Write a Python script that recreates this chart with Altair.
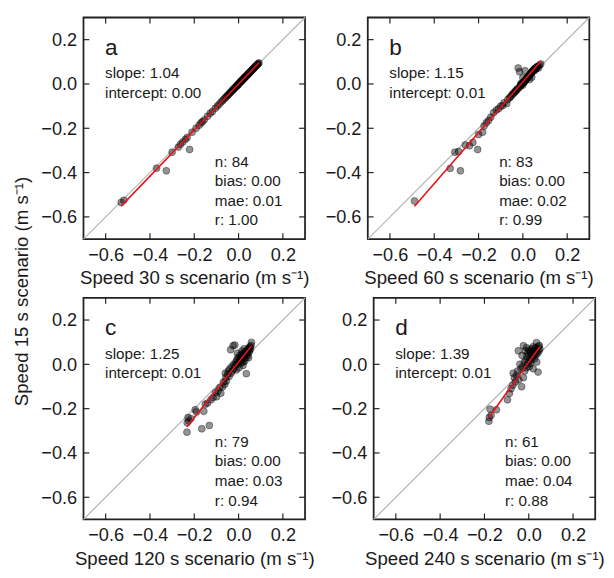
import altair as alt
import pandas as pd

FONT = "Liberation Sans"

letters = ["a", "b", "c", "d"]
x_titles = [
    "Speed 30 s scenario (m s\u207b\u00b9)",
    "Speed 60 s scenario (m s\u207b\u00b9)",
    "Speed 120 s scenario (m s\u207b\u00b9)",
    "Speed 240 s scenario (m s\u207b\u00b9)",
]
y_title = "Speed 15 s scenario (m s\u207b\u00b9)"
slopes = [1.04, 1.15, 1.25, 1.39]
intercepts = [0.00, 0.01, 0.01, 0.01]
ns = [84, 83, 79, 61]
biases = [0.00, 0.00, 0.00, 0.00]
maes = [0.01, 0.02, 0.03, 0.04]
rs = [1.00, 0.99, 0.94, 0.88]
tick_values = [-0.6, -0.4, -0.2, 0.0, 0.2]
axis_domain = [-0.7, 0.3]

# panel a : 30 s vs 15 s
xa = [-0.530, -0.518, -0.370, -0.326, -0.300, -0.272, -0.262, -0.252, -0.240, -0.232,
      -0.221, -0.210, -0.192, -0.178, -0.170, -0.163, -0.155, -0.140, -0.128, -0.118,
      -0.105, -0.096, -0.088, -0.080, -0.072, -0.066, -0.060, -0.055, -0.050, -0.046,
      -0.042, -0.038, -0.034, -0.030, -0.027, -0.024, -0.020, -0.017, -0.014, -0.011,
      -0.008, -0.005, -0.002, 0.001, 0.004, 0.006, 0.009, 0.011, 0.014, 0.016,
      0.019, 0.021, 0.024, 0.026, 0.029, 0.031, 0.034, 0.036, 0.039, 0.041,
      0.044, 0.046, 0.049, 0.051, 0.054, 0.056, 0.059, 0.061, 0.064, 0.066,
      0.069, 0.071, 0.074, 0.076, 0.079, 0.081, 0.084, 0.086, 0.089, 0.092,
      -0.004, 0.012, 0.028, 0.045]
ya = [-0.535, -0.525, -0.380, -0.392, -0.308, -0.285, -0.272, -0.262, -0.250, -0.242,
      -0.296, -0.218, -0.200, -0.186, -0.176, -0.170, -0.162, -0.146, -0.132, -0.124,
      -0.110, -0.100, -0.092, -0.082, -0.076, -0.068, -0.063, -0.056, -0.053, -0.048,
      -0.044, -0.039, -0.036, -0.031, -0.029, -0.024, -0.022, -0.017, -0.015, -0.011,
      -0.009, -0.005, -0.003, 0.002, 0.004, 0.007, 0.009, 0.012, 0.014, 0.017,
      0.019, 0.022, 0.025, 0.027, 0.030, 0.032, 0.035, 0.037, 0.041, 0.042,
      0.046, 0.047, 0.051, 0.053, 0.056, 0.058, 0.061, 0.063, 0.067, 0.068,
      0.072, 0.073, 0.077, 0.079, 0.082, 0.084, 0.087, 0.089, 0.092, 0.095,
      -0.006, 0.013, 0.030, 0.046]

# panel b : 60 s vs 15 s
xb = [-0.489, -0.328, -0.307, -0.282, -0.290, -0.260, -0.241, -0.226, -0.204, -0.200,
      -0.182, -0.175, -0.165, -0.155, -0.145, -0.132, -0.120, -0.110, -0.100, -0.092,
      -0.085, -0.073, -0.068, -0.060,
      -0.055, -0.050, -0.045, -0.040, -0.036, -0.032, -0.028, -0.025, -0.021, -0.018,
      -0.015, -0.012, -0.010, -0.008, -0.005, -0.003,
      0.000, 0.002, 0.004, 0.006, 0.008, 0.010, 0.012, 0.014, 0.016, 0.018,
      0.020, 0.022, 0.024, 0.026, 0.028, 0.030, 0.032, 0.034, 0.036, 0.038,
      0.040, 0.042, 0.044, 0.046, 0.048, 0.050, 0.052, 0.054, 0.056, 0.058,
      0.060, 0.062, 0.065, 0.068, 0.071, 0.075, 0.081,
      0.000, 0.010, 0.040, 0.055, -0.010, 0.030]
yb = [-0.528, -0.381, -0.308, -0.392, -0.305, -0.275, -0.279, -0.264, -0.296, -0.228,
      -0.218, -0.190, -0.175, -0.165, -0.150, -0.130, -0.118, -0.112, -0.100, -0.098,
      -0.085, -0.089, -0.070, -0.062,
      -0.058, -0.050, -0.045, -0.040, -0.036, -0.030, -0.028, -0.022, 0.072, -0.018,
      0.055, -0.010, -0.008, -0.004, 0.000, 0.005,
      0.028, 0.005, 0.008, 0.010, 0.012, 0.015, 0.018, 0.020, 0.022, 0.025,
      0.028, 0.030, 0.032, 0.035, 0.038, 0.040, 0.042, 0.045, 0.048, 0.050,
      0.052, 0.055, 0.058, 0.060, 0.062, 0.065, 0.060, 0.068, 0.070, 0.072,
      0.068, 0.075, 0.078, 0.080, 0.072, 0.085, 0.090,
      -0.005, 0.060, 0.030, 0.070, 0.000, 0.020]

# panel c : 120 s vs 15 s
xc = [-0.233, -0.232, -0.228, -0.225, -0.215, -0.196, -0.190, -0.166, -0.157, -0.150,
      -0.140, -0.132, -0.125, -0.115, -0.105, -0.099, -0.092, -0.085, -0.080, -0.072,
      -0.068, -0.062, -0.058, -0.055,
      -0.050, -0.046, -0.043, -0.040, -0.036, -0.034, -0.030, -0.028, -0.025, -0.022,
      -0.020, -0.017, -0.015, -0.012, -0.010, -0.008, -0.005, -0.003, 0.000, 0.002,
      0.004, 0.006, 0.008, 0.010, 0.012, 0.014, 0.016, 0.018, 0.020, 0.022,
      0.024, 0.026, 0.028, 0.030, 0.032, 0.034, 0.035, 0.036, 0.038, 0.040,
      0.042, 0.044, 0.046, 0.048, 0.050, 0.052, 0.054, 0.056, 0.058, -0.060,
      0.015, 0.025, -0.005, 0.045, 0.020]
yc = [-0.306, -0.264, -0.240, -0.255, -0.245, -0.205, -0.215, -0.291, -0.212, -0.180,
      -0.175, -0.276, -0.160, -0.150, -0.128, -0.146, -0.120, -0.105, -0.130, -0.101,
      -0.080, -0.090, -0.060, -0.075,
      -0.045, -0.030, -0.055, -0.020, 0.066, -0.040, -0.010, -0.030, 0.084, 0.000,
      -0.020, 0.087, -0.005, 0.010, -0.025, 0.020, 0.000, 0.030, 0.010, -0.015,
      0.025, 0.040, 0.015, 0.005, 0.030, 0.045, 0.020, 0.035, 0.010, 0.050,
      0.028, 0.040, 0.015, 0.055, 0.045, 0.030, -0.042, 0.060, 0.050, 0.065,
      0.040, 0.070, 0.055, 0.075, 0.060, 0.080, 0.070, 0.085, 0.099, -0.040,
      0.060, 0.070, 0.050, 0.030, -0.005]

# panel d : 240 s vs 15 s
xd = [-0.180, -0.178, -0.175, -0.170, -0.146, -0.096, -0.087, -0.080, -0.072, -0.070,
      -0.065, -0.060, -0.055, -0.050, -0.047, -0.045, -0.040, -0.035, -0.032, -0.030,
      -0.028, -0.024, -0.024, -0.020, -0.018, -0.015, -0.012, -0.010, -0.008, -0.005,
      -0.003, 0.000, 0.002, 0.004, 0.006, 0.008, 0.010, 0.012, 0.014, 0.016,
      0.018, 0.020, 0.022, 0.024, 0.026, 0.028, 0.030, 0.032, 0.034, 0.035,
      0.036, 0.038, 0.040, 0.042, 0.044, 0.046, 0.048, 0.050, -0.010, 0.000,
      0.020]
yd = [-0.257, -0.240, -0.202, -0.230, -0.205, -0.160, -0.131, -0.110, -0.094, -0.040,
      -0.060, -0.080, -0.050, -0.030, 0.061, -0.070, 0.000, -0.020, -0.101, 0.040,
      -0.010, 0.084, -0.060, 0.010, -0.030, 0.060, 0.020, -0.015, 0.035, 0.000,
      0.050, 0.015, -0.010, 0.030, 0.060, 0.005, 0.045, 0.020, 0.070, 0.035,
      0.055, -0.020, 0.040, 0.065, 0.025, 0.050, 0.075, 0.040, 0.060, 0.098,
      0.010, 0.070, 0.050, -0.035, 0.080, 0.060, 0.085, 0.070, 0.075, 0.065,
      0.080]

xs_all = [xa, xb, xc, xd]
ys_all = [ya, yb, yc, yd]

W, H = 226, 226
TICK = 6
TXT = "#1a1a1a"


def text_layer(s, px, py, size):
    return alt.Chart(pd.DataFrame({"t": [s]})).mark_text(
        font=FONT, fontSize=size, align="left", baseline="alphabetic", color=TXT
    ).encode(x=alt.value(px), y=alt.value(py), text="t:N")


def panel(i):
    xs, ys = xs_all[i], ys_all[i]
    sx = alt.Scale(domain=axis_domain, nice=False, zero=False)
    sy = alt.Scale(domain=axis_domain, nice=False, zero=False)
    X = alt.X("x:Q", scale=sx,
              axis=alt.Axis(values=tick_values, format=".1f", title=x_titles[i]))
    Y = alt.Y("y:Q", scale=sy,
              axis=alt.Axis(values=tick_values, format=".1f", title=None))

    diag = alt.Chart(pd.DataFrame({"x": axis_domain, "y": axis_domain})).mark_line(
        color="#b3b3b3", strokeWidth=1.2).encode(x=X, y=Y)

    pts = alt.Chart(pd.DataFrame({"x": xs, "y": ys})).mark_circle(
        size=50, color="black", fillOpacity=0.42, stroke="black",
        strokeOpacity=0.45, strokeWidth=0.8).encode(x=X, y=Y)

    x0, x1 = min(xs), max(xs)
    fit_df = pd.DataFrame({"x": [x0, x1],
                           "y": [slopes[i] * x0 + intercepts[i],
                                 slopes[i] * x1 + intercepts[i]]})
    fit = alt.Chart(fit_df).mark_line(color="#e8141c", strokeWidth=1.6).encode(x=X, y=Y)

    tdf = pd.DataFrame({"x": tick_values, "y": tick_values})
    tk = dict(color="#222222", strokeWidth=1.2)
    t_bottom = alt.Chart(tdf).mark_rule(**tk).encode(x=X, y=alt.value(H), y2=alt.value(H - TICK))
    t_top = alt.Chart(tdf).mark_rule(**tk).encode(x=X, y=alt.value(0), y2=alt.value(TICK))
    t_left = alt.Chart(tdf).mark_rule(**tk).encode(y=Y, x=alt.value(0), x2=alt.value(TICK))
    t_right = alt.Chart(tdf).mark_rule(**tk).encode(y=Y, x=alt.value(W), x2=alt.value(W - TICK))

    letter = text_layer(letters[i], 22, 38, 23)
    tl1 = text_layer(f"slope: {slopes[i]:.2f}", 22, 62, 15.5)
    tl2 = text_layer(f"intercept: {intercepts[i]:.2f}", 22, 82, 15.5)

    stats = [f"n: {ns[i]}", f"bias: {biases[i]:.2f}", f"mae: {maes[i]:.2f}", f"r: {rs[i]:.2f}"]
    stat_layers = [text_layer(s, 134, 152 + 20 * k, 15.5) for k, s in enumerate(stats)]

    return alt.layer(diag, pts, fit, t_bottom, t_top, t_left, t_right,
                     letter, tl1, tl2, *stat_layers).properties(width=W, height=H)


row1 = alt.hconcat(panel(0), panel(1), spacing=14)
row2 = alt.hconcat(panel(2), panel(3), spacing=14)

chart = alt.vconcat(row1, row2, spacing=5).properties(
    title=alt.TitleParams(y_title, orient="left", anchor="middle", fontSize=19,
                          font=FONT, fontWeight="normal", color=TXT, offset=8),
    padding={"left": 5, "top": 0, "right": 0, "bottom": 0},
).configure_view(
    stroke="#222222", strokeWidth=1.8
).configure_axis(
    domain=False, ticks=False, grid=False,
    labelFont=FONT, labelFontSize=18.5, labelColor=TXT, labelPadding=7,
    titleFont=FONT, titleFontSize=19, titleColor=TXT, titleFontWeight="normal",
    titlePadding=5,
)

chart.save("out.html", embed_options={"renderer": "svg", "actions": False})
